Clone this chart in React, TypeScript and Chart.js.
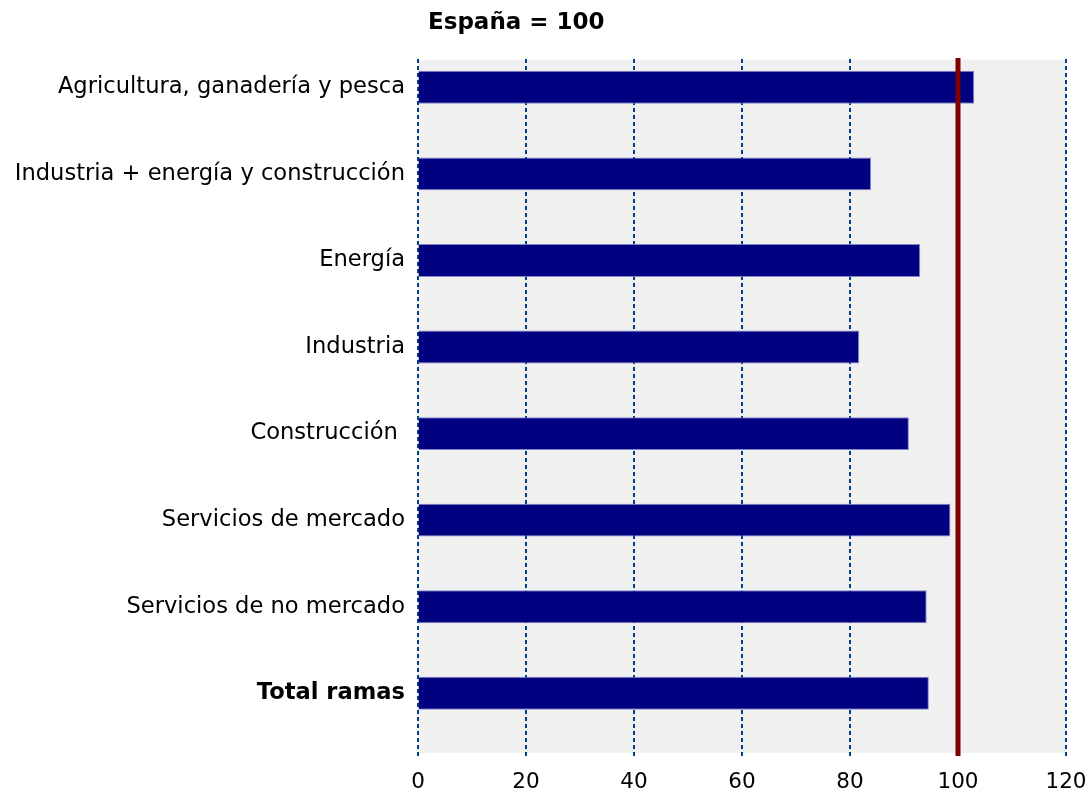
import React, { useEffect, useRef } from "react";
import { Chart, registerables } from "chart.js";

Chart.register(...registerables);

const categories = [
  "Agricultura, ganadería y pesca",
  "Industria + energía y construcción",
  "Energía",
  "Industria",
  "Construcción ",
  "Servicios de mercado",
  "Servicios de no mercado",
  "Total ramas",
];
const values = [103.0, 83.9, 93.0, 81.7, 90.9, 98.6, 94.2, 94.6];
const boldCategories = ["Total ramas"];
const referenceValue = 100;
const titleText = "España = 100";
const xMin = 0;
const xMax = 120;
const xStep = 20;

const FONT = "'DejaVu Sans', Verdana, sans-serif";

// plot frame (gray panel) extends slightly below/above the category band
const PANEL_TOP_OFFSET = 16;
const PANEL_BOTTOM_OFFSET = 16.4;

const bgPlugin = {
  id: "plotBg",
  beforeDraw(chart: any) {
    const { ctx, chartArea } = chart;
    const top = chartArea.top + PANEL_TOP_OFFSET;
    const bottom = chartArea.bottom + PANEL_BOTTOM_OFFSET;
    ctx.save();
    ctx.fillStyle = "#f0f0f0";
    ctx.fillRect(chartArea.left, top, chartArea.right - chartArea.left, bottom - top);
    // dashed vertical grid lines at each x tick
    const xs = chart.scales.x;
    ctx.strokeStyle = "#004080";
    ctx.lineWidth = 2;
    ctx.setLineDash([4, 3]);
    xs.ticks.forEach((t: any) => {
      const x = xs.getPixelForValue(t.value);
      ctx.beginPath();
      ctx.moveTo(x, top - 1);
      ctx.lineTo(x, bottom + 3);
      ctx.stroke();
    });
    ctx.restore();
  },
};

const refLinePlugin = {
  id: "refLine",
  afterDatasetsDraw(chart: any) {
    const { ctx, chartArea } = chart;
    const x = chart.scales.x.getPixelForValue(referenceValue);
    ctx.save();
    ctx.strokeStyle = "#800000";
    ctx.lineWidth = 5;
    ctx.beginPath();
    ctx.moveTo(x, chartArea.top + PANEL_TOP_OFFSET - 2);
    ctx.lineTo(x, chartArea.bottom + PANEL_BOTTOM_OFFSET + 3);
    ctx.stroke();
    ctx.restore();
  },
};

const titlePlugin = {
  id: "manualTitle",
  afterDraw(chart: any) {
    const { ctx, chartArea } = chart;
    ctx.save();
    ctx.font = `bold 23px ${FONT}`;
    ctx.fillStyle = "#000";
    ctx.textAlign = "left";
    ctx.textBaseline = "middle";
    ctx.fillText(titleText, chartArea.left + 10, 23);
    ctx.restore();
  },
};

export default function App() {
  const ref = useRef<HTMLCanvasElement>(null);
  useEffect(() => {
    if (!ref.current) return;
    const chart = new Chart(ref.current, {
      type: "bar",
      data: {
        labels: categories,
        datasets: [
          {
            data: values,
            backgroundColor: "#000080",
            borderColor: "rgba(120,120,200,0.9)",
            borderWidth: 1,
            barPercentage: 0.38,
            categoryPercentage: 1,
          },
        ],
      },
      options: {
        indexAxis: "y",
        animation: false,
        responsive: true,
        maintainAspectRatio: false,
        layout: { padding: { top: 44, right: 21, left: 0, bottom: 0 } },
        plugins: {
          legend: { display: false },
          title: { display: false },
          tooltip: { enabled: false },
        },
        scales: {
          x: {
            min: xMin,
            max: xMax,
            ticks: {
              stepSize: xStep,
              color: "#000",
              padding: 0,
              font: { family: FONT, size: 21.5 },
            },
            grid: {
              display: true,
              color: "rgba(0,0,0,0)",
              drawOnChartArea: false,
              drawTicks: true,
              tickLength: 32.5,
              tickColor: "rgba(0,0,0,0)",
            },
            border: { display: false },
            afterFit(scale: any) {
              scale.height = 52.4;
            },
          },
          y: {
            ticks: {
              color: "#000",
              padding: 13,
              font: (ctx: any) => ({
                family: FONT,
                size: 22.6,
                weight: boldCategories.includes(categories[ctx.index]) ? "bold" : "normal",
              }),
            },
            grid: { display: false, drawTicks: false },
            border: { display: false },
            afterFit(scale: any) {
              scale.width = 418;
            },
          },
        },
      },
      plugins: [bgPlugin, refLinePlugin, titlePlugin],
    } as any);
    return () => chart.destroy();
  }, []);
  return (
    <div style={{ position: "fixed", left: 0, top: 0, width: 1087, height: 789, background: "#fff" }}>
      <canvas ref={ref} />
    </div>
  );
}
